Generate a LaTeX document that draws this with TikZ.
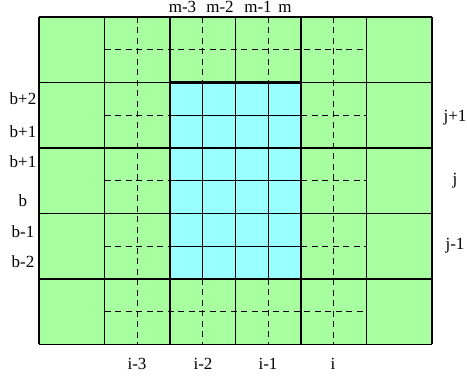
\documentclass[tikz,border=0pt]{standalone}
\usepackage{fontspec}
\setmainfont{Liberation Serif}
\usetikzlibrary{positioning}
\definecolor{cellgreen}{RGB}{168,255,160}
\definecolor{cellcyan}{RGB}{153,255,255}

\begin{document}
\begin{tikzpicture}[
    x=1pt, y=-1pt,
    font=\fontsize{17}{19}\selectfont,
    % Grid Styles
    coarse/.style={draw=black, line width=1.6pt},
    fine/.style={draw=black, line width=1.4pt},
    halo/.style={draw=black, line width=1.3pt, dash pattern=on 6pt off 4.5pt},
    rim/.style={draw=black, line width=2.8pt},
    lbl/.style={anchor=base, inner sep=0pt}
]
\useasboundingbox (0,0) rectangle (467,379);

% ========================================================
% PART 1: FIELDS
% ========================================================

\fill[cellgreen] (39,17) rectangle (432,344.5);
\fill[cellcyan] (170,82.5) rectangle (301,279);

% fine cells of the inner block
\foreach \k in {1,2,3}
    \draw[fine] (170+32.75*\k,82.5) -- ++(0,196.5);
\foreach \k in {1,...,5}
    \draw[fine] (170,82.5+32.75*\k) -- ++(131,0);

% dashed halo cells
\draw[halo] (104.5,49.75) -- (366.5,49.75);
\draw[halo] (104.5,311.75) -- (366.5,311.75);
\foreach \x in {137.25,333.75}
    \draw[halo] (\x,17) -- (\x,344.5);
\foreach \x in {202.75,268.25} {
    \draw[halo] (\x,17) -- (\x,82.5);
    \draw[halo] (\x,279) -- (\x,344.5);
}
\foreach \y in {115.25,180.75,246.25} {
    \draw[halo] (104.5,\y) -- (170,\y);
    \draw[halo] (301,\y) -- (366.5,\y);
}

% coarse cells
\foreach \k in {0,...,6}
    \draw[coarse] (39+65.5*\k,17) -- (39+65.5*\k,344.5);
\foreach \k in {0,...,5}
    \draw[coarse] (39,17+65.5*\k) -- (432,17+65.5*\k);

% inner block border
\draw[rim] (170,82.5) rectangle (301,279);

% ========================================================
% PART 2: INDEX LABELS
% ========================================================

\foreach \x/\t [count=\n] in {182.5/m-3,220/m-2,258/m-1,285/m}
    \node[lbl] (mlab\n) at (\x,13) {\t};

\foreach \y/\t [count=\n] in {105/b+2,138/b+1,168/b+1,207/b,238/b-1,268/b-2}
    \node[lbl] (blab\n) at (23,\y) {\t};

\foreach \y/\t [count=\n] in {122/j+1,185/j,250/j-1}
    \node[lbl] (jlab\n) at (455,\y) {\t};

\foreach \x/\t [count=\n] in {137/i-3,203/i-2,268/i-1,333/i}
    \node[lbl] (ilab\n) at (\x,370) {\t};

\end{tikzpicture}
\end{document}
